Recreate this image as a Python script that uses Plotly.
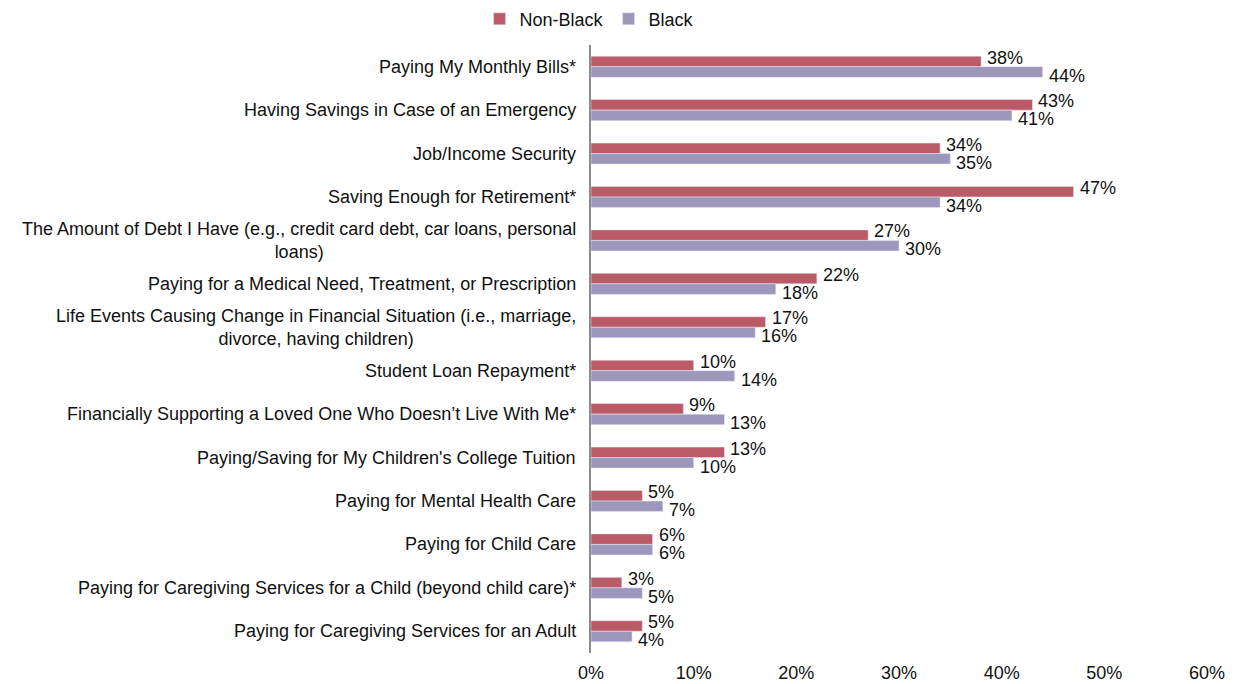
import plotly.graph_objects as go

categories = [
    "Paying My Monthly Bills*",
    "Having Savings in Case of an Emergency",
    "Job/Income Security",
    "Saving Enough for Retirement*",
    "The Amount of Debt I Have (e.g., credit card debt, car loans, personal<br>loans)",
    "Paying for a Medical Need, Treatment, or Prescription",
    "Life Events Causing Change in Financial Situation (i.e., marriage,<br>divorce, having children)",
    "Student Loan Repayment*",
    "Financially Supporting a Loved One Who Doesn’t Live With Me*",
    "Paying/Saving for My Children's College Tuition",
    "Paying for Mental Health Care",
    "Paying for Child Care",
    "Paying for Caregiving Services for a Child (beyond child care)*",
    "Paying for Caregiving Services for an Adult",
]

non_black = [38, 43, 34, 47, 27, 22, 17, 10, 9, 13, 5, 6, 3, 5]
black = [44, 41, 35, 34, 30, 18, 16, 14, 13, 10, 7, 6, 5, 4]

x_ticks = [0, 10, 20, 30, 40, 50, 60]
x_tick_labels = [f"{t}%" for t in x_ticks]

FONT = "Liberation Sans, Arial, sans-serif"
TEXT = "#111111"
RED = "#BC5B68"
LAVENDER = "#9E97BC"
SIZE = 18

fig = go.Figure()
fig.add_trace(go.Bar(
    name="Non-Black", y=categories, x=non_black, orientation="h",
    marker=dict(color=RED), hoverinfo="x+y",
))
fig.add_trace(go.Bar(
    name="Black", y=categories, x=black, orientation="h",
    marker=dict(color=LAVENDER), hoverinfo="x+y",
))

# Value labels: Non-Black nudged up, Black nudged down, so the pair stays legible
for series, shift in ((non_black, 9), (black, -9)):
    for cat, v in zip(categories, series):
        fig.add_annotation(
            x=v, xref="x", y=cat, yref="y", text=f"{v}%", showarrow=False,
            xanchor="left", xshift=4, yshift=shift,
            font=dict(family=FONT, size=SIZE, color=TEXT),
        )

# Category labels as annotations so wrapped lines are centred
for cat in categories:
    fig.add_annotation(
        x=0, xref="paper", y=cat, yref="y", text=cat, showarrow=False,
        xanchor="right", xshift=-13, align="center",
        font=dict(family=FONT, size=SIZE, color=TEXT),
    )

fig.update_layout(
    width=1236, height=684,
    margin=dict(l=591, r=29, t=45, b=31, autoexpand=False),
    paper_bgcolor="white", plot_bgcolor="white",
    barmode="group", bargap=0.515, bargroupgap=0,
    font=dict(family=FONT, size=SIZE, color=TEXT),
    showlegend=True,
    legend=dict(
        orientation="h", xref="container", yref="container",
        x=0.477, xanchor="center", y=0.972, yanchor="middle",
        font=dict(family=FONT, size=SIZE, color=TEXT),
        itemwidth=30, traceorder="normal",
    ),
    xaxis=dict(
        range=[0, 60], tickvals=x_ticks, ticktext=x_tick_labels,
        showgrid=False, zeroline=False, showline=False, automargin=False,
        ticks="outside", ticklen=3, tickcolor="rgba(0,0,0,0)",
        tickfont=dict(family=FONT, size=SIZE, color=TEXT),
    ),
    yaxis=dict(
        categoryorder="array", categoryarray=categories,
        autorange="reversed", showticklabels=False, ticks="",
        showgrid=False, zeroline=False, automargin=False,
        showline=True, linecolor="#8C8C8C", linewidth=1.5,
    ),
)

fig.write_html("out.html")
